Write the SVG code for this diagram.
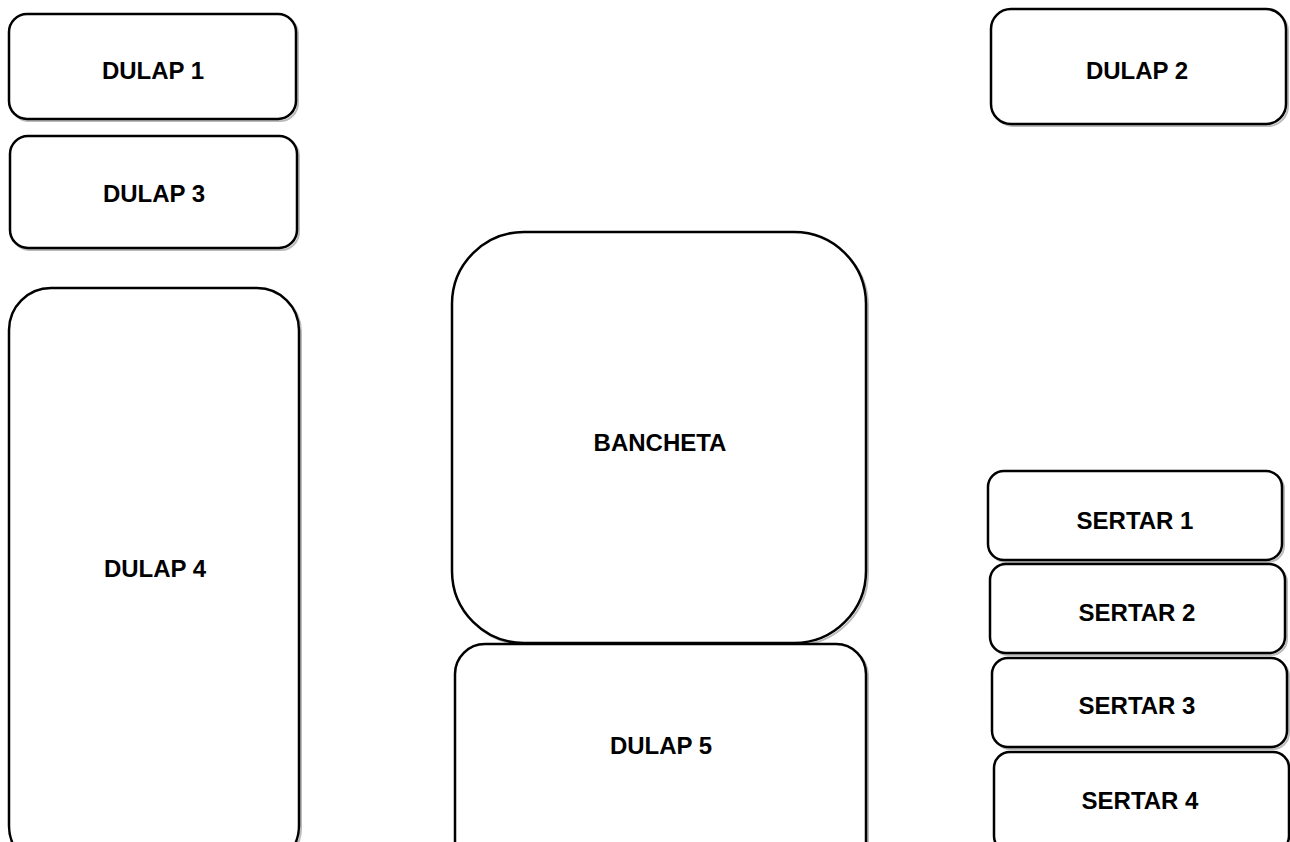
<svg xmlns="http://www.w3.org/2000/svg" width="1290" height="842" viewBox="0 0 1290 842">
<defs>
<style>
.box{fill:#fff;stroke:#000;stroke-width:2.5}
.sh{fill:none;stroke:#bbb;stroke-width:2}
.t{font-family:"Liberation Sans",Arial,sans-serif;font-weight:bold;font-size:24px;fill:#000;text-anchor:middle;dominant-baseline:central}
</style>
</defs>
<rect width="1290" height="842" fill="#fff"/>
<g id="dulap1"><rect class="sh" x="11" y="16" width="287" height="105" rx="18"/><rect class="box" x="9" y="14" width="287" height="105" rx="18"/><text class="t" x="153" y="70">DULAP 1</text></g>
<g id="dulap3"><rect class="sh" x="12" y="138" width="287" height="112" rx="18"/><rect class="box" x="10" y="136" width="287" height="112" rx="18"/><text class="t" x="154" y="193">DULAP 3</text></g>
<g id="dulap2"><rect class="sh" x="993" y="11" width="295" height="115" rx="20"/><rect class="box" x="991" y="9" width="295" height="115" rx="20"/><text class="t" x="1137" y="70">DULAP 2</text></g>
<g id="dulap4"><rect class="sh" x="11" y="290" width="290" height="580" rx="42"/><rect class="box" x="9" y="288" width="290" height="580" rx="42"/><text class="t" x="155" y="568">DULAP 4</text></g>
<g id="bancheta"><rect class="sh" x="454" y="234" width="414" height="411" rx="72"/><rect class="box" x="452" y="232" width="414" height="411" rx="72"/><text class="t" x="660" y="442">BANCHETA</text></g>
<g id="dulap5"><rect class="sh" x="457" y="646" width="411" height="230" rx="30"/><rect class="box" x="455" y="644" width="411" height="230" rx="30"/><text class="t" x="661" y="745">DULAP 5</text></g>
<g id="sertar1"><rect class="sh" x="990" y="473" width="294" height="89" rx="16"/><rect class="box" x="988" y="471" width="294" height="89" rx="16"/><text class="t" x="1135" y="520">SERTAR 1</text></g>
<g id="sertar2"><rect class="sh" x="992" y="566" width="295" height="89" rx="16"/><rect class="box" x="990" y="564" width="295" height="89" rx="16"/><text class="t" x="1137" y="612">SERTAR 2</text></g>
<g id="sertar3"><rect class="sh" x="994" y="660" width="295" height="89" rx="16"/><rect class="box" x="992" y="658" width="295" height="89" rx="16"/><text class="t" x="1137" y="705">SERTAR 3</text></g>
<g id="sertar4"><rect class="sh" x="996" y="754" width="295" height="100" rx="16"/><rect class="box" x="994" y="752" width="295" height="100" rx="16"/><text class="t" x="1140" y="800">SERTAR 4</text></g>
<g id="connectors"/>
</svg>
